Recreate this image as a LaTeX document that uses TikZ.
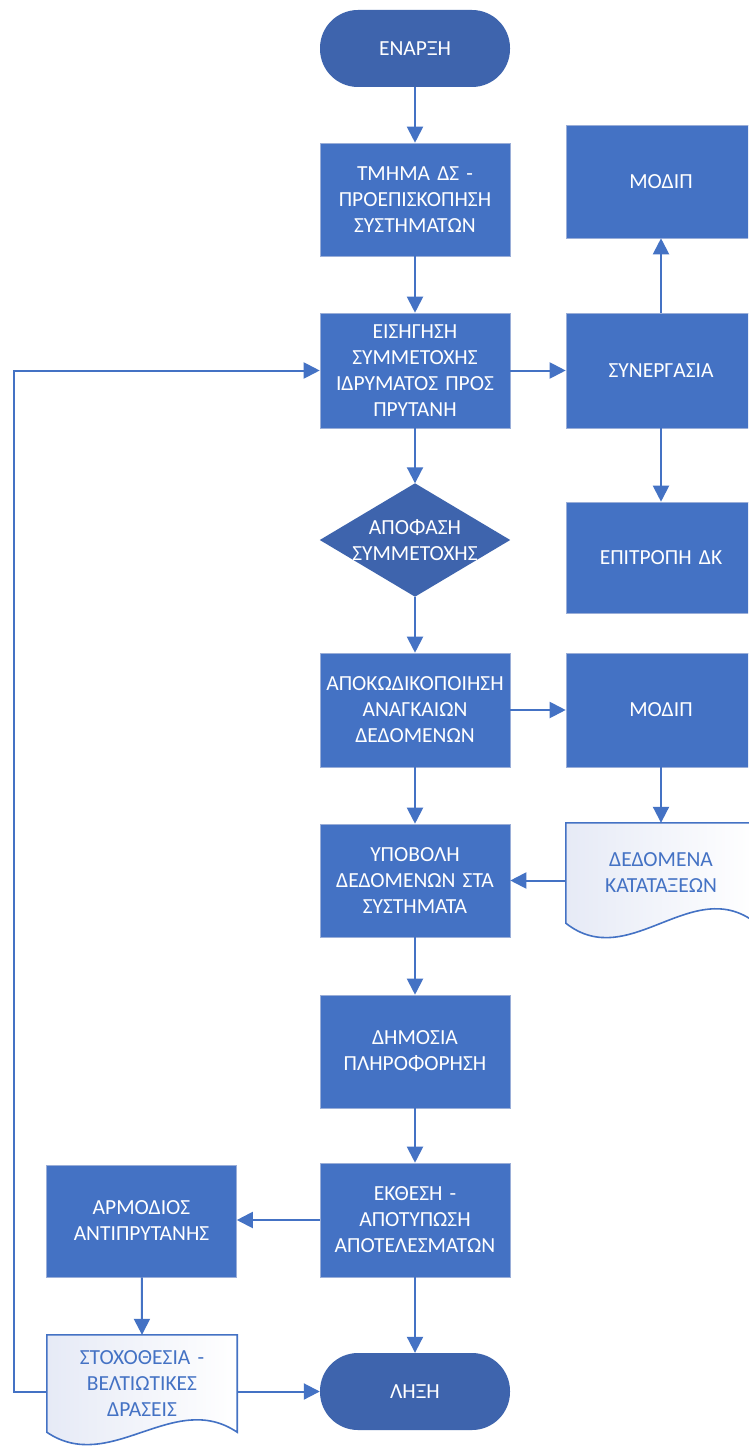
\documentclass[tikz,border=0pt]{standalone}
\usepackage{fontspec}
\setmainfont{Carlito}
\usetikzlibrary{arrows.meta,calc,backgrounds}
\definecolor{boxblue}{HTML}{4472C4}
\definecolor{termblue}{HTML}{3E64AD}
\definecolor{docfill}{HTML}{E6EAF6}
\definecolor{boxedge}{HTML}{9AAED8}
\begin{document}
\begin{tikzpicture}[x=1pt,y=-1pt,
  base/.style={align=center, inner sep=0pt, text width=189pt,
    font=\fontsize{21.5}{26}\selectfont},
  procbox/.style={base, rectangle, text=white, fill=boxblue, draw=boxedge,
    line width=0.6pt, minimum width=190pt, minimum height=113pt},
  termbox/.style={base, rectangle, text=white, fill=termblue,
    rounded corners=38pt, minimum width=190pt, minimum height=77pt},
  decbox/.style={base, rectangle, text=white, text width=150pt,
    minimum width=190pt, minimum height=113pt},
  docbox/.style={base, rectangle, text=boxblue, minimum width=190pt},
  docline/.style={draw=boxblue, line width=1.6pt, left color=docfill, right color=white},
  arr/.style={draw=boxblue, line width=2pt, -{Triangle[length=16pt,width=16pt]}}
]
\clip (0,0) rectangle (748,1447);

% main column
\node[termbox] (start) at (415,48.5) {ΕΝΑΡΞΗ};
\node[procbox] (tmhma) at (415,199.5) {ΤΜΗΜΑ ΔΣ -\\ΠΡΟΕΠΙΣΚΟΠΗΣΗ\\ΣΥΣΤΗΜΑΤΩΝ};
\node[procbox, minimum height=115pt] (eis) at (415,370.5) {ΕΙΣΗΓΗΣΗ\\ΣΥΜΜΕΤΟΧΗΣ\\ΙΔΡΥΜΑΤΟΣ ΠΡΟΣ\\ΠΡΥΤΑΝΗ};
\node[decbox] (dec) at (415,540) {ΑΠΟΦΑΣΗ\\ΣΥΜΜΕΤΟΧΗΣ};
\node[procbox, minimum height=114pt] (apo) at (415,710) {ΑΠΟΚΩΔΙΚΟΠΟΙΗΣΗ\\ΑΝΑΓΚΑΙΩΝ\\ΔΕΔΟΜΕΝΩΝ};
\node[procbox] (ypo) at (415,880.5) {ΥΠΟΒΟΛΗ\\ΔΕΔΟΜΕΝΩΝ ΣΤΑ\\ΣΥΣΤΗΜΑΤΑ};
\node[procbox] (dim) at (415,1051.5) {ΔΗΜΟΣΙΑ\\ΠΛΗΡΟΦΟΡΗΣΗ};
\node[procbox, minimum height=114pt] (ekt) at (415,1220) {ΕΚΘΕΣΗ -\\ΑΠΟΤΥΠΩΣΗ\\ΑΠΟΤΕΛΕΣΜΑΤΩΝ};
\node[termbox] (end) at (415,1391.5) {ΛΗΞΗ};

% right column
\node[procbox] (modipa) at (661,181.5) {ΜΟΔΙΠ};
\node[procbox, minimum height=115pt] (syn) at (661,370.5) {ΣΥΝΕΡΓΑΣΙΑ};
\node[procbox, minimum height=111pt] (epi) at (661,557.5) {ΕΠΙΤΡΟΠΗ ΔΚ};
\node[procbox, minimum height=114pt] (modipb) at (661,710) {ΜΟΔΙΠ};
\node[docbox, minimum height=100pt] (ded) at (661,873) {ΔΕΔΟΜΕΝΑ\\ΚΑΤΑΤΑΞΕΩΝ\\[6pt]};

% left column
\node[procbox, minimum height=112pt] (arm) at (141.5,1221) {ΑΡΜΟΔΙΟΣ\\ΑΝΤΙΠΡΥΤΑΝΗΣ};
\node[docbox, minimum height=97pt, text width=182pt] (stox) at (142,1383.5) {ΣΤΟΧΟΘΕΣΙΑ -\\ΒΕΛΤΙΩΤΙΚΕΣ\\ΔΡΑΣΕΙΣ};

\begin{scope}[on background layer]
  \fill[white] (0,0) rectangle (748,1447);
  \fill[termblue] (dec.north) -- (dec.east) -- (dec.south) -- (dec.west) -- cycle;
  \path[docline] (ded.north west) -- (ded.north east) -- (ded.south east)
    .. controls ($(ded.south west)!0.6667!(ded.south east)+(0,-50)$)
            and ($(ded.south west)!0.3333!(ded.south east)+(0,50)$) .. (ded.south west) -- cycle;
  \path[docline] (stox.north west) -- (stox.north east) -- (stox.south east)
    .. controls ($(stox.south west)!0.6667!(stox.south east)+(0,-43)$)
            and ($(stox.south west)!0.3333!(stox.south east)+(0,43)$) .. (stox.south west) -- cycle;
\end{scope}

% connectors
\draw[arr] (start) -- (tmhma);
\draw[arr] (tmhma) -- (eis);
\draw[arr] (eis) -- (syn);
\draw[arr] (syn) -- (modipa);
\draw[arr] (syn) -- (epi);
\draw[arr] (eis) -- (dec.north);
\draw[arr] (dec.south) -- (apo);
\draw[arr] (apo) -- (modipb);
\draw[arr] (modipb) -- (ded.north);
\draw[arr] (ded.west |- ypo.east) -- (ypo.east);
\draw[arr] (apo) -- (ypo);
\draw[arr] (ypo) -- (dim);
\draw[arr] (dim) -- (ekt);
\draw[arr] (ekt.west) -- (arm.east |- ekt.west);
\draw[arr] (arm) -- (stox.north);
\draw[arr] (ekt) -- (end);
\draw[arr] (stox.east |- end.west) -- (end.west);
\coordinate (loop) at (14,1391.5);
\draw[arr] (stox.west |- end.west) -- (loop) |- (eis.west);
\end{tikzpicture}
\end{document}
